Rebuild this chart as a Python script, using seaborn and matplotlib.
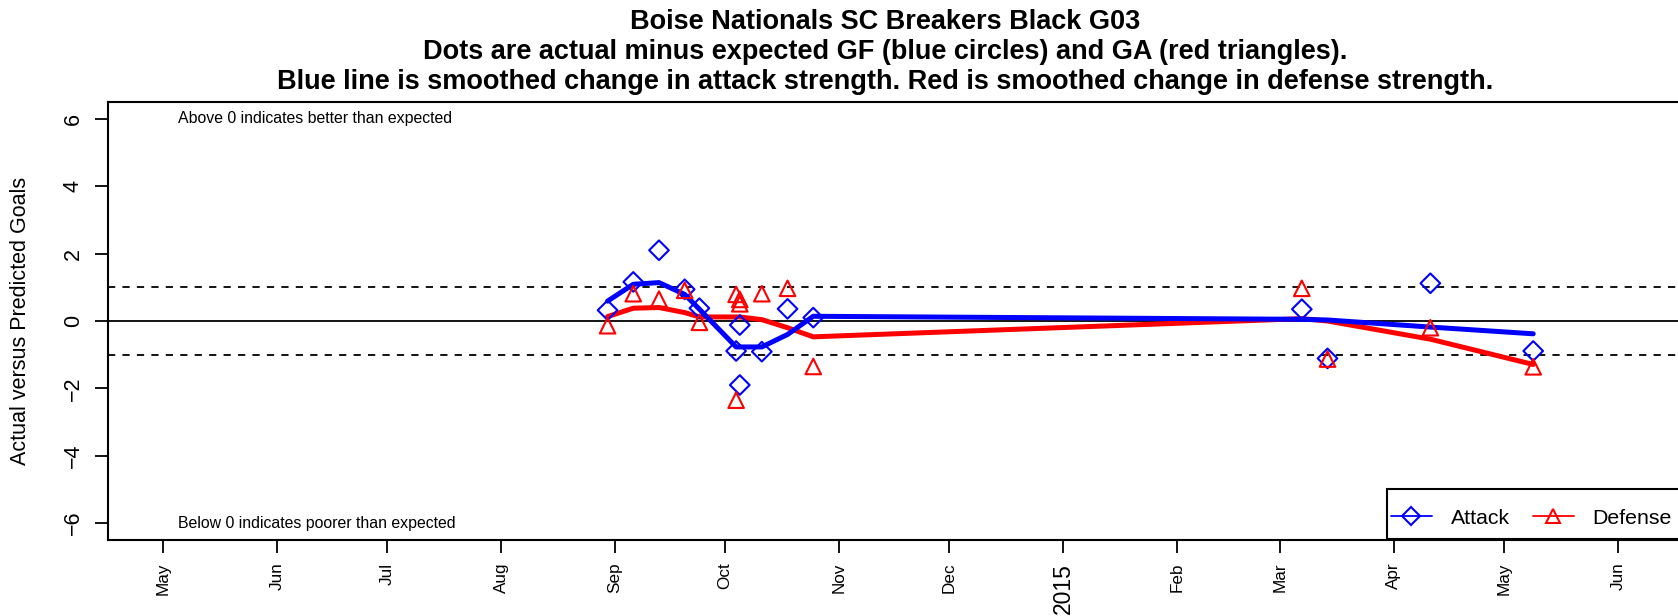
import pandas as pd
import numpy as np
import seaborn as sns
import matplotlib.pyplot as plt
from matplotlib.lines import Line2D
from matplotlib.patches import Rectangle

# Points: actual minus expected goals for / goals against
attack_dates = ['2014-08-30', '2014-09-06', '2014-09-13', '2014-09-20', '2014-09-24',
                '2014-10-04', '2014-10-05', '2014-10-05', '2014-10-11', '2014-10-18',
                '2014-10-25', '2015-03-07', '2015-03-14', '2015-04-11', '2015-05-09']
attack_vals = [0.32, 1.16, 2.10, 0.94, 0.38, -0.89, -0.12, -1.90, -0.91, 0.36,
               0.10, 0.35, -1.11, 1.12, -0.89]

defense_dates = ['2014-08-30', '2014-09-06', '2014-09-13', '2014-09-20', '2014-09-24',
                 '2014-10-04', '2014-10-04', '2014-10-05', '2014-10-05', '2014-10-11',
                 '2014-10-18', '2014-10-25', '2015-03-07', '2015-03-14', '2015-04-11',
                 '2015-05-09']
defense_vals = [-0.14, 0.81, 0.65, 0.91, -0.04, 0.79, -2.35, 0.64, 0.51, 0.81,
                0.97, -1.35, 0.97, -1.13, -0.20, -1.36]

# Smoothed strength changes
smooth_dates = ['2014-08-30', '2014-09-06', '2014-09-13', '2014-09-20', '2014-09-24',
                '2014-10-04', '2014-10-05', '2014-10-11', '2014-10-18', '2014-10-25',
                '2015-03-07', '2015-03-14', '2015-04-11', '2015-05-09']
attack_smooth = [0.59, 1.09, 1.14, 0.79, 0.35, -0.77, -0.77, -0.77, -0.40, 0.14,
                 0.05, 0.03, -0.18, -0.38]
defense_smooth = [0.13, 0.38, 0.40, 0.25, 0.12, 0.12, 0.12, 0.04, -0.20, -0.47,
                  0.07, 0.00, -0.54, -1.29]

month_ticks = ['2014-05-01', '2014-06-01', '2014-07-01', '2014-08-01', '2014-09-01',
               '2014-10-01', '2014-11-01', '2014-12-01', '2015-01-01', '2015-02-01',
               '2015-03-01', '2015-04-01', '2015-05-01', '2015-06-01']
month_labels = ['May', 'Jun', 'Jul', 'Aug', 'Sep', 'Oct', 'Nov', 'Dec', '2015',
                'Feb', 'Mar', 'Apr', 'May', 'Jun']

sns.set_style("white")
plt.rcParams['font.family'] = ['Liberation Sans', 'DejaVu Sans']
plt.rcParams['text.color'] = 'black'
plt.rcParams['axes.labelcolor'] = 'black'
plt.rcParams['xtick.color'] = 'black'
plt.rcParams['ytick.color'] = 'black'

fig = plt.figure(figsize=(16.78, 6.16), dpi=100)
ax = fig.add_axes([108 / 1678, 76 / 616, 1 - 108 / 1678, 438 / 616])

ax.axhline(0, color='black', lw=1.3, zorder=1)
ax.axhline(1, color='black', lw=1.3, ls=(0, (4, 4)), zorder=1)
ax.axhline(-1, color='black', lw=1.3, ls=(0, (4, 4)), zorder=1)

sm = pd.to_datetime(smooth_dates)
sns.lineplot(x=sm, y=attack_smooth, color='#0000ff', lw=3.6, ax=ax, zorder=3)
sns.lineplot(x=sm, y=defense_smooth, color='#ff0000', lw=3.6, ax=ax, zorder=2)

sns.scatterplot(x=pd.to_datetime(attack_dates), y=attack_vals, marker='D', s=100,
                facecolor='none', edgecolor='#0000ff', linewidth=1.5, ax=ax, zorder=4)
sns.scatterplot(x=pd.to_datetime(defense_dates), y=defense_vals, marker='^', s=125,
                facecolor='none', edgecolor='#ff0000', linewidth=1.5, ax=ax, zorder=4)

ax.set_xlim(pd.Timestamp('2014-04-16'), pd.Timestamp('2015-06-17 10:00'))
ax.set_ylim(-6.5, 6.5)

ax.set_xticks(pd.to_datetime(month_ticks))
ax.set_xticklabels(month_labels, rotation=90, fontsize=12.3)
for lab in ax.get_xticklabels():
    if lab.get_text() == '2015':
        lab.set_fontsize(16.5)
ax.set_yticks([-6, -4, -2, 0, 2, 4, 6])
ax.set_yticklabels(['\u22126', '\u22124', '\u22122', '0', '2', '4', '6'],
                   rotation=90, va='center', fontsize=15.5)
ax.tick_params(axis='both', direction='out', length=9.3, width=1.3, color='black',
               bottom=True, left=True)
ax.tick_params(axis='x', pad=7)
ax.tick_params(axis='y', pad=8)
ax.set_ylabel('Actual versus Predicted Goals', fontsize=15.5)
ax.yaxis.set_label_coords(-0.049, 0.5)
ax.set_xlabel('')

for side in ['left', 'bottom', 'top']:
    ax.spines[side].set_color('black')
    ax.spines[side].set_linewidth(1.5)
ax.spines['right'].set_visible(False)

ax.text(pd.Timestamp('2014-05-05'), 6, 'Above 0 indicates better than expected',
        fontsize=11.4, va='center', ha='left')
ax.text(pd.Timestamp('2014-05-05'), -6, 'Below 0 indicates poorer than expected',
        fontsize=11.4, va='center', ha='left')

# legend box runs off the right edge like the plot region does
frame = Rectangle((1387 / 1678, 77 / 616), 320 / 1678, 50 / 616, transform=fig.transFigure,
                  facecolor='white', edgecolor='black', lw=1.5, zorder=5, clip_on=False)
fig.add_artist(frame)
handles = [Line2D([], [], color='#0000ff', marker='D', mfc='none', ms=9, lw=1.3, mew=1.5),
           Line2D([], [], color='#ff0000', marker='^', mfc='none', ms=10, lw=1.3, mew=1.5)]
leg = fig.legend(handles, ['Attack', 'Defense'], ncol=2, loc='center left',
                 bbox_to_anchor=(1387 / 1678, 98 / 616), fontsize=15.3, frameon=False,
                 borderaxespad=0, handlelength=1.9, columnspacing=1.1,
                 handletextpad=0.9, borderpad=0.2)
leg.set_zorder(6)

titles = ['Boise Nationals SC Breakers Black G03',
          'Dots are actual minus expected GF (blue circles) and GA (red triangles).',
          'Blue line is smoothed change in attack strength. Red is smoothed change in defense strength.']
for i, t in enumerate(titles):
    fig.text(885 / 1678, 1 - (22 + 30 * i) / 616, t, ha='center', va='center',
             fontsize=19.5, fontweight='bold')

fig.savefig('out.png', dpi=100)
